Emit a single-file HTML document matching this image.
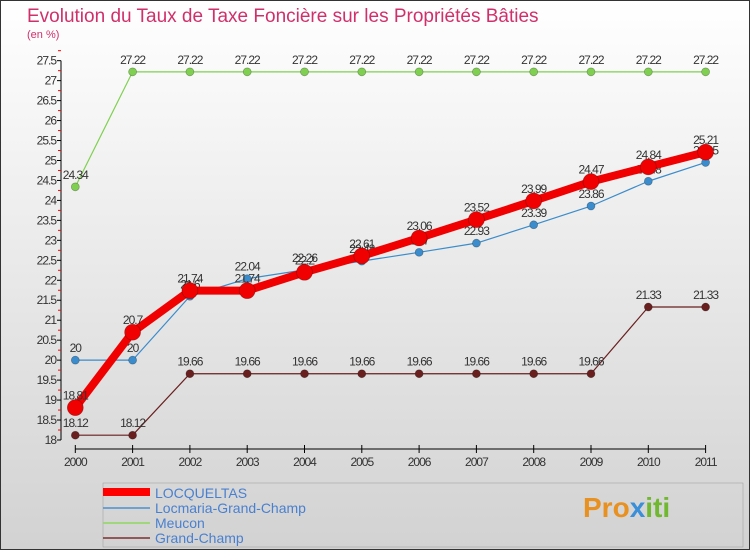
<!DOCTYPE html>
<html><head><meta charset="utf-8"><style>
body{margin:0;width:750px;height:550px;overflow:hidden;font-family:"Liberation Sans",sans-serif}
</style></head><body>
<svg width="750" height="550" xmlns="http://www.w3.org/2000/svg" style="display:block">
<defs><linearGradient id="bg" x1="0" y1="0" x2="0" y2="1"><stop offset="0" stop-color="#ffffff"/><stop offset="1" stop-color="#d2d2d2"/></linearGradient></defs>
<rect x="0.5" y="0.5" width="749" height="549" fill="url(#bg)" stroke="#333"/>
<text x="27" y="22" font-size="19" fill="#d0306a">Evolution du Taux de Taxe Foncière sur les Propriétés Bâties</text>
<text x="27" y="38" font-size="11" fill="#d0306a">(en %)</text>
<g id="axes"></g><g id="series"></g>
<rect x="103" y="483" width="640" height="64" fill="none" stroke="#999" stroke-width="0.5"/>
<g font-size="14" fill="#5b8fd6">
<line x1="103" y1="492" x2="150" y2="492" stroke="#f00" stroke-width="8"/>
<text x="155" y="498" fill="#4a80d0">LOCQUELTAS</text>
<line x1="103" y1="508" x2="150" y2="508" stroke="#4a90d0" stroke-width="1.5"/>
<text x="155" y="513" fill="#4a80d0">Locmaria-Grand-Champ</text>
<line x1="103" y1="523" x2="150" y2="523" stroke="#8fd860" stroke-width="1.5"/>
<text x="155" y="528" fill="#4a80d0">Meucon</text>
<line x1="103" y1="538" x2="150" y2="538" stroke="#7a3030" stroke-width="1.5"/>
<text x="155" y="543" fill="#4a80d0">Grand-Champ</text>
</g>
<text x="583" y="517" font-size="28" font-weight="bold" fill="#e89020">Pro<tspan fill="#3a8fd8">x</tspan><tspan fill="#70b830">iti</tspan></text>
</svg>
<script>
const years=[2000,2001,2002,2003,2004,2005,2006,2007,2008,2009,2010,2011];
const locqueltas=[18.81,20.7,21.74,21.74,22.2,22.61,23.06,23.52,23.99,24.47,24.84,25.21];
const locmaria=[20,20,21.6,22.04,22.26,22.48,22.7,22.93,23.39,23.86,24.48,24.95];
const meucon=[24.34,27.22,27.22,27.22,27.22,27.22,27.22,27.22,27.22,27.22,27.22,27.22];
const grandChamp=[18.12,18.12,19.66,19.66,19.66,19.66,19.66,19.66,19.66,19.66,21.33,21.33];
const yTicks=[18,18.5,19,19.5,20,20.5,21,21.5,22,22.5,23,23.5,24,24.5,25,25.5,26,26.5,27,27.5];
const NS="http://www.w3.org/2000/svg";
const X=i=>75.3+i*57.3;
const Y=v=>440-(v-18)*39.93;
function mk(t,a,p){const e=document.createElementNS(NS,t);for(const k in a)e.setAttribute(k,a[k]);p.appendChild(e);return e;}
const ax=document.getElementById('axes');
const ya=mk('line',{x1:61,y1:Y(27.5),x2:61,y2:Y(18),stroke:'#000'},ax);


yTicks.forEach(v=>{
 mk('line',{x1:57,x2:61,y1:Y(v),y2:Y(v),stroke:'#000'},ax);
 mk('line',{x1:58,x2:61,y1:Y(v+0.25),y2:Y(v+0.25),stroke:'#f00'},ax);
 const t=mk('text',{x:56,y:Y(v)+4,'text-anchor':'end','font-size':12,fill:'#333','letter-spacing':'-1'},ax);
 t.textContent=v;
 
 
});
const xa=mk('line',{x1:X(0),y1:449,x2:X(11),y2:449,stroke:'#000'},ax);


years.forEach((y,i)=>{
 mk('line',{x1:X(i),x2:X(i),y1:445,y2:453,stroke:'#000'},ax);
 const t=mk('text',{x:X(i),y:466,'text-anchor':'middle','font-size':12,fill:'#333','letter-spacing':'-1'},ax);
 t.textContent=y;
 
 
});
const sg=document.getElementById('series');
function series(name,data,color,w,r){
 const g=mk('g',{},sg);
 
 
 const pl=mk('polyline',{points:data.map((v,i)=>X(i)+','+Y(v)).join(' '),fill:'none',stroke:color,'stroke-width':w,'stroke-linejoin':'round'},g);
 
 
 data.forEach((v,i)=>{
  const c=mk('circle',{cx:X(i),cy:Y(v),r:r,fill:color,stroke:'rgba(0,0,0,0.3)','stroke-width':0.7},g);
  
  
  const t=mk('text',{x:X(i),y:Y(v)-8,'text-anchor':'middle','font-size':12,fill:'#333','letter-spacing':'-1'},g);
  t.textContent=v;
  
  
 });
}
series('grand-champ',grandChamp,'#6a1f1f',1.2,4);
series('meucon',meucon,'#7fd050',1.2,4);
series('locmaria',locmaria,'#3a8ccc',1.2,4);
series('locqueltas',locqueltas,'#f00000',8,8);
</script>
</body></html>
